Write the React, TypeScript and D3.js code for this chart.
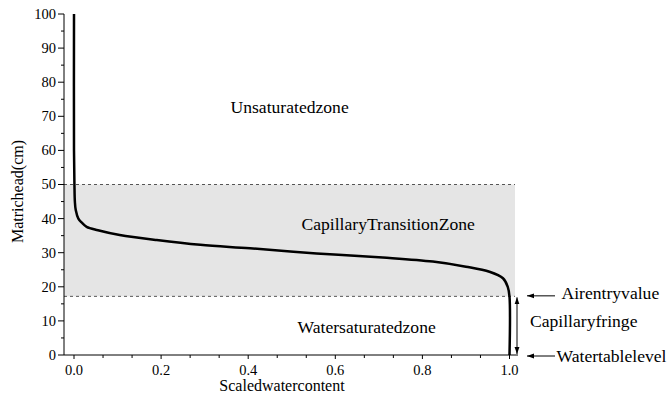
import React from "react";
import * as d3 from "d3";

const satValues = [0, 0, 0.001, 0.002, 0.004, 0.01, 0.018, 0.029, 0.055, 0.105, 0.19, 0.29, 0.404, 0.557, 0.709, 0.824, 0.9, 0.954, 0.985, 0.996, 1.0, 1.0];
const headValues = [100, 60, 50, 45, 42.5, 40, 38.8, 37.6, 36.6, 35.2, 33.7, 32.3, 31.3, 29.8, 28.6, 27.4, 25.9, 24.4, 22.5, 20.0, 17.1, 0];
const xTicks = [0, 0.2, 0.4, 0.6, 0.8, 1.0];
const yTicks = [0, 10, 20, 30, 40, 50, 60, 70, 80, 90, 100];
const transitionTop = 50;
const airEntry = 17.2;
const zoneLabels = ["Unsaturatedzone", "CapillaryTransitionZone", "Watersaturatedzone"];
const annotations = ["Airentryvalue", "Capillaryfringe", "Watertablelevel"];

export default function App() {
  const W = 670, H = 401;
  const x = d3.scaleLinear().domain([0, 1]).range([74, 509.5]);
  const y = d3.scaleLinear().domain([0, 100]).range([355, 14]);
  const axisX0 = 64;
  const axisX1 = 518;
  const font = "'Liberation Serif', 'Times New Roman', serif";

  const pts: [number, number][] = satValues.map((s, i) => [s, headValues[i]]);
  const line = d3
    .line<[number, number]>()
    .x((d) => x(d[0]))
    .y((d) => y(d[1]))
    .curve(d3.curveCatmullRom.alpha(0.5));

  const xMinor: number[] = [];
  for (let i = 0; i <= 15; i++) xMinor.push(i / 15);
  const yMinor: number[] = [];
  for (let v = 0; v <= 100; v += 5) yMinor.push(v);

  const arrowColor = "#000";
  const labelSize = 17.6;

  return (
    <svg width={W} height={H} style={{ position: "absolute", left: 0, top: 0 }} fontFamily={font}>
      <defs>
        <marker id="ah" viewBox="0 0 10 10" refX="10" refY="5" markerWidth="7" markerHeight="7" orient="auto-start-reverse" markerUnits="userSpaceOnUse">
          <path d="M0,1.5 L10,5 L0,8.5 z" fill={arrowColor} />
        </marker>
      </defs>
      {/* shaded transition zone */}
      <rect x={axisX0} y={y(transitionTop)} width={515 - axisX0} height={y(airEntry) - y(transitionTop)} fill="#e5e5e5" />
      <line x1={axisX0} x2={515} y1={y(transitionTop)} y2={y(transitionTop)} stroke="#555" strokeDasharray="3,3" strokeWidth={1} />
      <line x1={axisX0} x2={515} y1={y(airEntry)} y2={y(airEntry)} stroke="#555" strokeDasharray="3,3" strokeWidth={1} />

      {/* axes */}
      <line x1={axisX0} x2={axisX0} y1={y(0)} y2={y(100)} stroke="#000" strokeWidth={1} />
      <line x1={axisX0} x2={axisX1} y1={y(0)} y2={y(0)} stroke="#000" strokeWidth={1} />
      {yMinor.map((v) => (
        <line key={"ym" + v} x1={axisX0 - (v % 10 === 0 ? 6 : 3)} x2={axisX0} y1={y(v)} y2={y(v)} stroke="#000" strokeWidth={1} />
      ))}
      {yTicks.map((v) => (
        <text key={"yt" + v} x={axisX0 - 8} y={y(v)} dy="0.34em" textAnchor="end" fontSize={14.5}>
          {v}
        </text>
      ))}
      {xMinor.map((v, i) => (
        <line key={"xm" + i} x1={x(v)} x2={x(v)} y1={y(0)} y2={y(0) + (i % 3 === 0 ? 4 : 3)} stroke="#000" strokeWidth={1} />
      ))}
      {xTicks.map((v) => (
        <text key={"xt" + v} x={x(v)} y={375} textAnchor="middle" fontSize={14.5}>
          {v.toFixed(1)}
        </text>
      ))}
      <text x={282} y={390.5} textAnchor="middle" fontSize={16}>Scaledwatercontent</text>
      <text transform={`translate(22.5,${191.5}) rotate(-90)`} textAnchor="middle" fontSize={16}>Matrichead(cm)</text>

      {/* curve */}
      <path d={line(pts) || ""} fill="none" stroke="#000" strokeWidth={2.5} />

      {/* zone labels */}
      <text x={230.5} y={113} fontSize={labelSize}>{zoneLabels[0]}</text>
      <text x={301.5} y={230} fontSize={labelSize}>{zoneLabels[1]}</text>
      <text x={297.5} y={332.5} fontSize={labelSize}>{zoneLabels[2]}</text>

      {/* annotations */}
      <line x1={555} x2={527} y1={y(airEntry) - 0.5} y2={y(airEntry) - 0.5} stroke="#000" strokeWidth={1} markerEnd="url(#ah)" />
      <line x1={555} x2={527} y1={356} y2={356} stroke="#000" strokeWidth={1} markerEnd="url(#ah)" />
      <line x1={517} x2={517} y1={y(airEntry) + 1} y2={354} stroke="#000" strokeWidth={1} markerStart="url(#ah)" markerEnd="url(#ah)" />
      <text x={561.5} y={299} fontSize={labelSize}>{annotations[0]}</text>
      <text x={530} y={326.5} fontSize={labelSize}>{annotations[1]}</text>
      <text x={556.5} y={361.5} fontSize={labelSize}>{annotations[2]}</text>
    </svg>
  );
}
